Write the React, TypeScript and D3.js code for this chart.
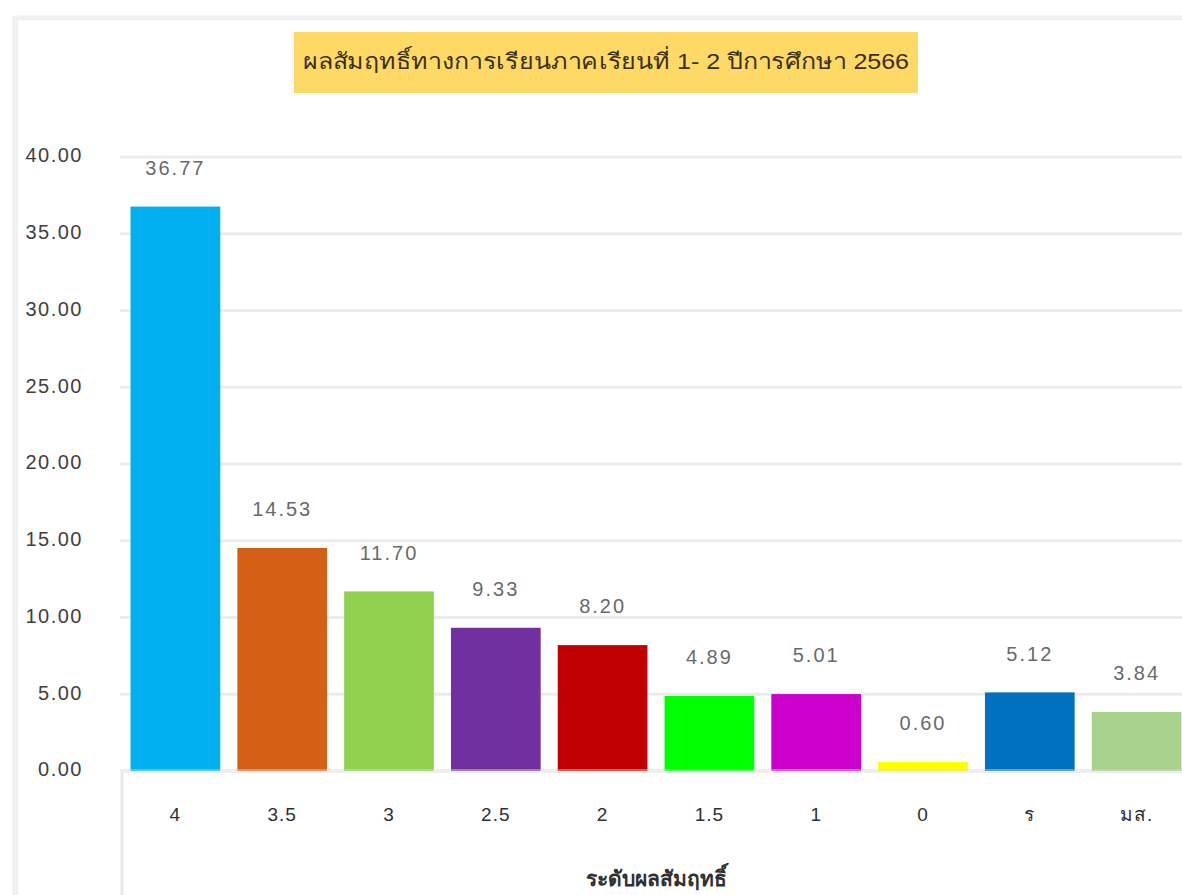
import React from 'react';
import * as d3 from 'd3';

const categories = ['4', '3.5', '3', '2.5', '2', '1.5', '1', '0', 'ร', 'มส.'];
const values = [36.77, 14.53, 11.7, 9.33, 8.2, 4.89, 5.01, 0.6, 5.12, 3.84];
const colors = ['#00B0F0', '#D36014', '#92D050', '#7030A0', '#C00000', '#00FF00', '#CC00CC', '#FFFF00', '#0070C0', '#A9D18E'];
const yTicks = [0, 5, 10, 15, 20, 25, 30, 35, 40];

const title = 'ผลสัมฤทธิ์ทางการเรียนภาคเรียนที่ 1- 2 ปีการศึกษา 2566';
const xTitle = 'ระดับผลสัมฤทธิ์';

const width = 1182;
const height = 895;

const App = () => {
  const x = d3.scaleBand<string>()
    .domain(categories)
    .range([122, 1190])
    .paddingInner(0.16)
    .paddingOuter(0.08);

  const y = d3.scaleLinear().domain([0, 40]).range([771, 157]);

  const fontFamily = '"Liberation Sans", "Noto Sans", Arial, sans-serif';

  return (
    <div style={{ position: 'absolute', left: 0, top: 0 }}>
      <svg width={width} height={height} style={{ display: 'block', background: '#fff' }}>
        {/* chart border */}
        <line x1={15} x2={width} y1={18} y2={18} stroke="#f0f0f0" strokeWidth={5} />
        <line x1={15} x2={15} y1={16} y2={height} stroke="#f0f0f0" strokeWidth={6} />

        {/* title box */}
        <rect x={294} y={32} width={624} height={61} fill="#FFD966" />
        <text
          x={606}
          y={63}
          textAnchor="middle"
          dominantBaseline="middle"
          fontSize={22}
          fill="#3a3020"
          fontFamily={fontFamily}
          textLength={606}
          lengthAdjust="spacingAndGlyphs"
        >
          {title}
        </text>

        {/* gridlines */}
        {yTicks.filter(t => t > 0).map(t => (
          <line key={t} x1={120} x2={width} y1={y(t)} y2={y(t)} stroke="#ebebeb" strokeWidth={3} />
        ))}

        {/* y tick labels */}
        {yTicks.map(t => (
          <text
            key={t}
            x={83}
            y={y(t)}
            textAnchor="end"
            dominantBaseline="middle"
            fontSize={20}
            letterSpacing={1.5}
            fill="#404040"
            fontFamily={fontFamily}
          >
            {t.toFixed(2)}
          </text>
        ))}

        {/* bars */}
        {categories.map((c, i) => (
          <rect
            key={c}
            x={x(c)}
            y={y(values[i])}
            width={x.bandwidth()}
            height={y(0) - y(values[i])}
            fill={colors[i]}
          />
        ))}

        {/* value labels */}
        {categories.map((c, i) => (
          <text
            key={c}
            x={(x(c) ?? 0) + x.bandwidth() / 2}
            y={y(values[i]) - 37}
            textAnchor="middle"
            dominantBaseline="middle"
            fontSize={20}
            letterSpacing={2}
            fill="#6a6a6a"
            fontFamily={fontFamily}
          >
            {values[i].toFixed(2)}
          </text>
        ))}

        {/* x axis line */}
        <line x1={120} x2={width} y1={771} y2={771} stroke="#d9d9d9" strokeOpacity={0.45} strokeWidth={4} />
        <line x1={122} x2={122} y1={773} y2={height} stroke="#e8e8e8" strokeWidth={3} />

        {/* category labels */}
        {categories.map(c => (
          <text
            key={c}
            x={(x(c) ?? 0) + x.bandwidth() / 2}
            y={816}
            textAnchor="middle"
            dominantBaseline="middle"
            fontSize={19}
            letterSpacing={1}
            fill="#303030"
            fontFamily={fontFamily}
          >
            {c}
          </text>
        ))}

        {/* x axis title */}
        <text
          x={656}
          y={880}
          textAnchor="middle"
          dominantBaseline="middle"
          fontSize={21}
          fontWeight="bold"
          fill="#303030"
          fontFamily={fontFamily}
        >
          {xTitle}
        </text>
      </svg>
    </div>
  );
};

export default App;
